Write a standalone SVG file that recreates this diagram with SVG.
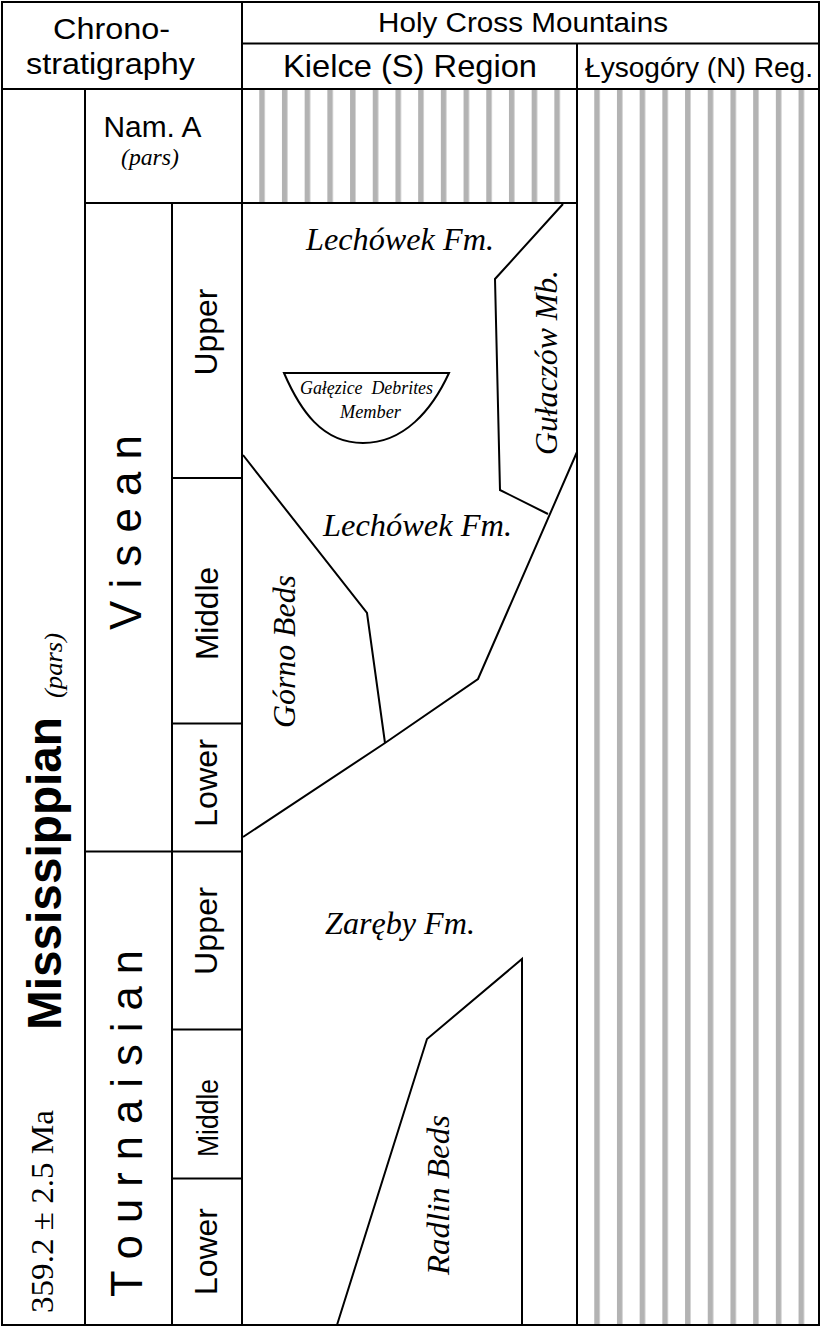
<svg xmlns="http://www.w3.org/2000/svg" width="822" height="1328" viewBox="0 0 822 1328">
<defs>
<style>
.ln{stroke:#000;stroke-width:2;fill:none}
.fl{stroke:#000;stroke-width:2;fill:none;stroke-linejoin:miter}
.st{fill:#b3b3b3}
.sans{font-family:"Liberation Sans",Arial,sans-serif;fill:#000}
.ser{font-family:"Liberation Serif","Times New Roman",serif;fill:#000}
.it{font-family:"Liberation Serif","Times New Roman",serif;font-style:italic;fill:#000}
</style>
<pattern id="stripesK" x="259.25" y="0" width="22.7" height="10" patternUnits="userSpaceOnUse">
<rect x="0" y="0" width="5.5" height="10" class="st"/>
</pattern>
<pattern id="stripesL" x="594.25" y="0" width="22.7" height="10" patternUnits="userSpaceOnUse">
<rect x="0" y="0" width="5.5" height="10" class="st"/>
</pattern>
</defs>
<rect x="0" y="0" width="822" height="1328" fill="#fff"/>

<g id="stripes">
<rect x="252" y="89" width="315" height="114" fill="url(#stripesK)"/>
<rect x="590" y="89" width="220" height="1236" fill="url(#stripesL)"/>
</g>

<g id="grid">
<rect x="2" y="2" width="817" height="1323" class="ln"/>
<line x1="242" y1="43.5" x2="819" y2="43.5" class="ln"/>
<line x1="2" y1="89" x2="819" y2="89" class="ln"/>
<line x1="242" y1="2" x2="242" y2="1325" class="ln"/>
<line x1="577" y1="43.5" x2="577" y2="1325" class="ln"/>
<line x1="85" y1="89" x2="85" y2="1325" class="ln"/>
<line x1="172" y1="203" x2="172" y2="1325" class="ln"/>
<line x1="85" y1="203" x2="577" y2="203" class="ln"/>
<line x1="172" y1="478" x2="242" y2="478" class="ln"/>
<line x1="172" y1="723.5" x2="242" y2="723.5" class="ln"/>
<line x1="85" y1="851.5" x2="242" y2="851.5" class="ln"/>
<line x1="172" y1="1029.5" x2="242" y2="1029.5" class="ln"/>
<line x1="172" y1="1178.5" x2="242" y2="1178.5" class="ln"/>
</g>

<g id="header">
<text class="sans" x="111.5" y="39" font-size="30" text-anchor="middle" textLength="117" lengthAdjust="spacingAndGlyphs">Chrono-</text>
<text class="sans" x="110.5" y="74" font-size="30" text-anchor="middle" textLength="169" lengthAdjust="spacingAndGlyphs">stratigraphy</text>
<text class="sans" x="523" y="32" font-size="27" text-anchor="middle" textLength="290" lengthAdjust="spacingAndGlyphs">Holy Cross Mountains</text>
<text class="sans" x="410" y="77" font-size="32" text-anchor="middle" textLength="254" lengthAdjust="spacingAndGlyphs">Kielce (S) Region</text>
<text class="sans" x="699" y="77" font-size="28" text-anchor="middle" textLength="228" lengthAdjust="spacingAndGlyphs">Łysogóry (N) Reg.</text>
</g>

<g id="chrono">
<text class="sans" x="152.5" y="137" font-size="29" text-anchor="middle" textLength="98" lengthAdjust="spacingAndGlyphs">Nam. A</text>
<text class="it" x="150" y="164.5" font-size="23" text-anchor="middle" textLength="58" lengthAdjust="spacingAndGlyphs">(pars)</text>

<text class="sans" font-weight="bold" font-size="48" transform="translate(61,1030) rotate(-90)" textLength="313" lengthAdjust="spacingAndGlyphs">Mississippian</text>
<text class="it" font-size="26" transform="translate(62,698) rotate(-90)" textLength="65" lengthAdjust="spacingAndGlyphs">(pars)</text>
<text class="ser" font-size="31" transform="translate(52.5,1313) rotate(-90)" textLength="203" lengthAdjust="spacingAndGlyphs">359.2 ± 2.5 Ma</text>

<text class="sans" font-size="44" transform="translate(141,630) rotate(-90)" textLength="195" lengthAdjust="spacingAndGlyphs">V i s e a n</text>
<text class="sans" font-size="44" transform="translate(142,1297) rotate(-90)" textLength="347" lengthAdjust="spacingAndGlyphs">T o u r n a i s i a n</text>

<text class="sans" font-size="31" transform="translate(217,375.5) rotate(-90)" textLength="87" lengthAdjust="spacingAndGlyphs">Upper</text>
<text class="sans" font-size="31" transform="translate(218,660) rotate(-90)" textLength="93" lengthAdjust="spacingAndGlyphs">Middle</text>
<text class="sans" font-size="31" transform="translate(217,827) rotate(-90)" textLength="88" lengthAdjust="spacingAndGlyphs">Lower</text>
<text class="sans" font-size="31" transform="translate(217,975) rotate(-90)" textLength="88" lengthAdjust="spacingAndGlyphs">Upper</text>
<text class="sans" font-size="29" transform="translate(218,1157) rotate(-90)" textLength="78" lengthAdjust="spacingAndGlyphs">Middle</text>
<text class="sans" font-size="31" transform="translate(217,1295) rotate(-90)" textLength="87" lengthAdjust="spacingAndGlyphs">Lower</text>
</g>

<g id="facies-lines">
<polyline class="fl" points="563,204 495,279 500,490 548,514"/>
<polyline class="fl" points="243,837 385,743 478,679 577,452"/>
<polyline class="fl" points="243,455 367,613 385,743"/>
<path class="fl" d="M284,373 L449,373 C432,410 404,443 363,443 C322,443 300,410 284,373 Z"/>
<polyline class="fl" points="337,1325 427,1039 522,959 522,1325"/>
</g>

<g id="facies-labels">
<text class="it" x="306" y="250" font-size="31" textLength="188" lengthAdjust="spacingAndGlyphs">Lechówek Fm.</text>
<text class="it" x="300" y="394" font-size="19" textLength="133" lengthAdjust="spacingAndGlyphs" xml:space="preserve">Gałęzice  Debrites</text>
<text class="it" x="340" y="418" font-size="19" textLength="61" lengthAdjust="spacingAndGlyphs">Member</text>
<text class="it" font-size="31" transform="translate(556.5,455) rotate(-90)" textLength="185" lengthAdjust="spacingAndGlyphs">Gułaczów Mb.</text>
<text class="it" x="323" y="535.5" font-size="31" textLength="189" lengthAdjust="spacingAndGlyphs">Lechówek Fm.</text>
<text class="it" font-size="31" transform="translate(295,728) rotate(-90)" textLength="153" lengthAdjust="spacingAndGlyphs">Górno Beds</text>
<text class="it" x="325" y="934" font-size="31" textLength="150" lengthAdjust="spacingAndGlyphs">Zaręby Fm.</text>
<text class="it" font-size="31" transform="translate(449,1275) rotate(-90)" textLength="160" lengthAdjust="spacingAndGlyphs">Radlin Beds</text>
</g>
</svg>
